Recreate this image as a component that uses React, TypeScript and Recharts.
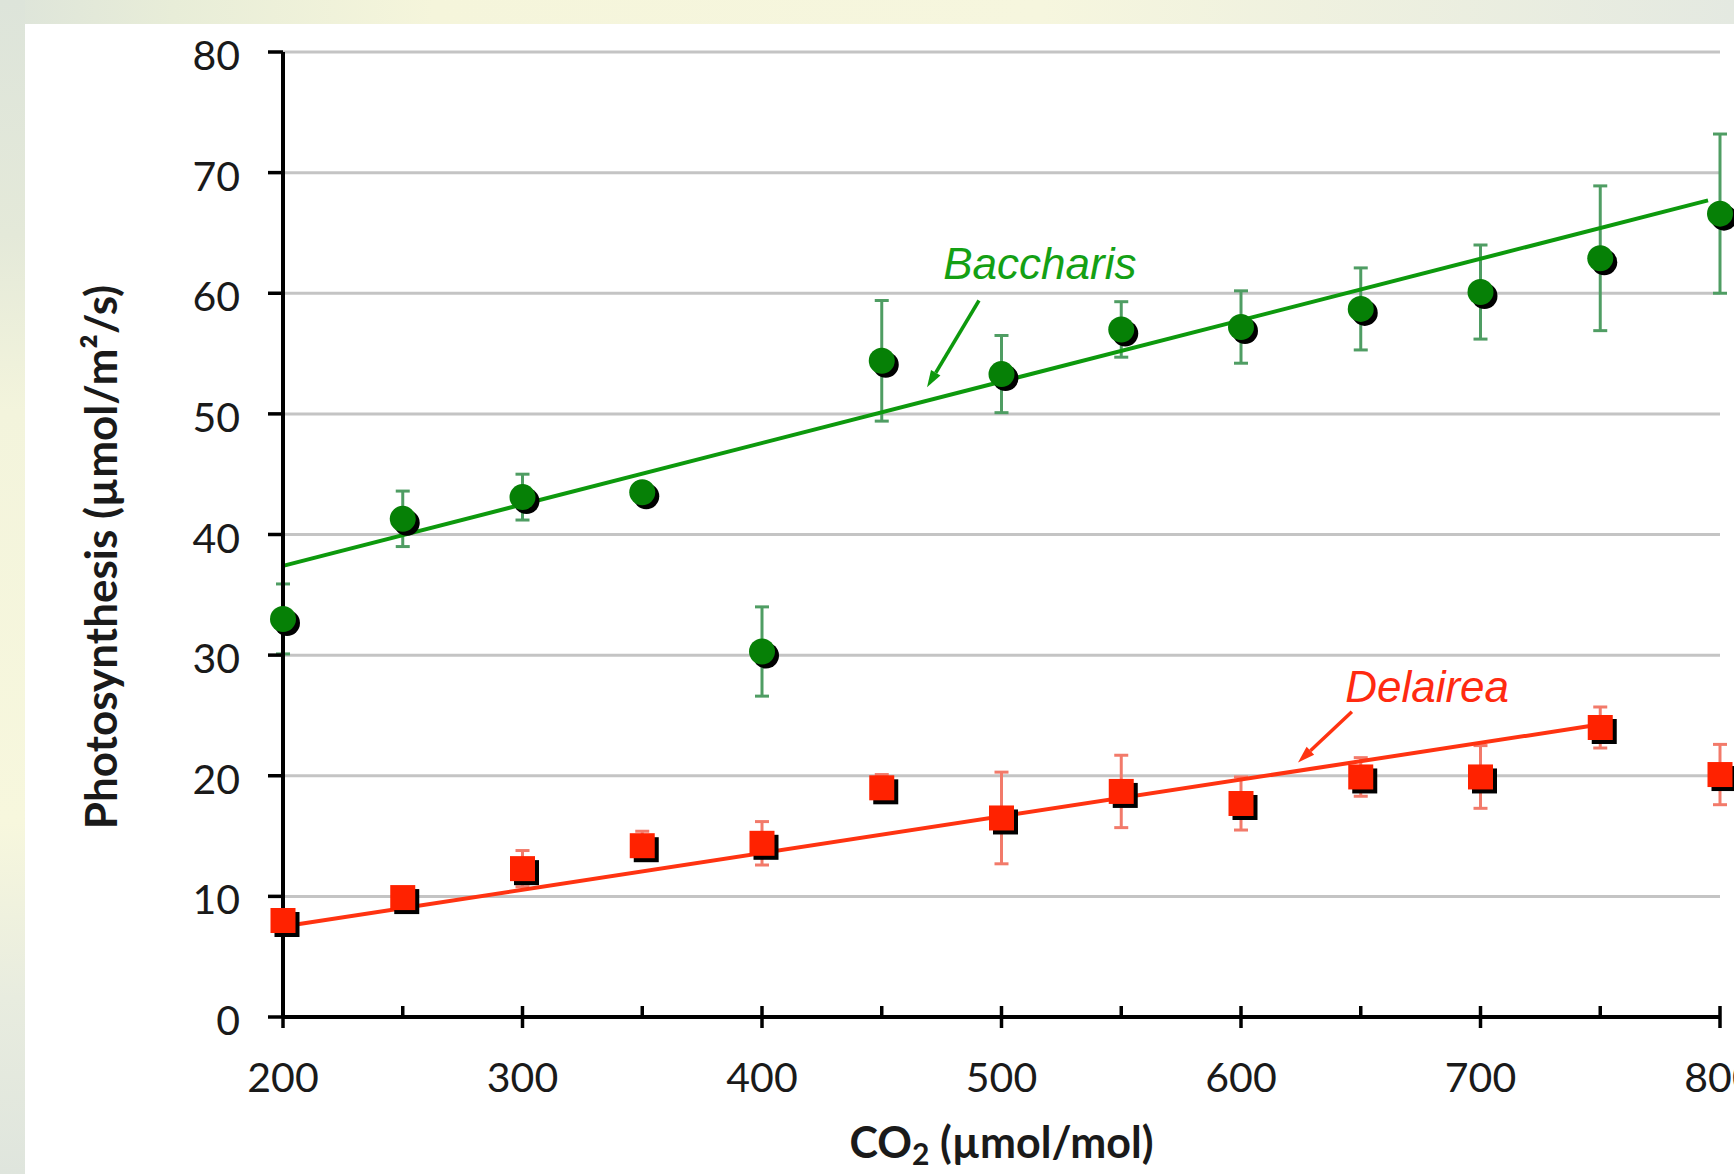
import { ScatterChart, Scatter, XAxis, YAxis, CartesianGrid, ErrorBar, ReferenceLine, ReferenceDot } from 'recharts'

// CO2 concentrations (µmol/mol)
const CO2 = [200, 250, 300, 350, 400, 450, 500, 550, 600, 650, 700, 750, 800]
// photosynthesis means and error bars (µmol/m²/s)
const BACCHARIS = [33.0, 41.3, 43.1, 43.5, 30.3, 54.4, 53.3, 57.0, 57.2, 58.7, 60.1, 62.9, 66.6]
const BACCHARIS_ERR = [2.9, 2.3, 1.9, 0.8, 3.7, 5.0, 3.2, 2.3, 3.0, 3.4, 3.9, 6.0, 6.6]
const DELAIREA = [8.0, 9.9, 12.3, 14.2, 14.4, 19.0, 16.5, 18.7, 17.7, 19.9, 19.9, 24.0, 20.1]
const DELAIREA_ERR = [0.6, 0.6, 1.5, 1.2, 1.8, 1.1, 3.8, 3.0, 2.2, 1.6, 2.6, 1.7, 2.5]

// linear fits, start and end
const BACCHARIS_FIT_X = [200, 795]
const BACCHARIS_FIT_Y = [37.4, 67.7]
const DELAIREA_FIT_X = [200, 745]
const DELAIREA_FIT_Y = [7.5, 24.1]

const X_TICKS = [200, 250, 300, 350, 400, 450, 500, 550, 600, 650, 700, 750, 800]
const Y_TICKS = [0, 10, 20, 30, 40, 50, 60, 70, 80]

const GREEN = '#068006'
const GREEN_LINE = '#0d990d'
const RED = '#ff2200'
const RED_LINE = '#ff3311'

const baccharisData = CO2.map((x, i) => ({ x, y: BACCHARIS[i], err: BACCHARIS_ERR[i] }))
const delaireaData = CO2.map((x, i) => ({ x, y: DELAIREA[i], err: DELAIREA_ERR[i] }))

const TICK_FONT = 'Lato, "Open Sans", sans-serif'

function GreenDot({ cx, cy }: any) {
  return (
    <g>
      <circle cx={cx + 4} cy={cy + 4} r={13} fill="#000" />
      <circle cx={cx} cy={cy} r={13} fill={GREEN} />
    </g>
  )
}

function RedSquare({ cx, cy }: any) {
  return (
    <g>
      <rect x={cx - 12.5 + 4} y={cy - 12.5 + 4} width={25} height={25} fill="#000" />
      <rect x={cx - 12.5} y={cy - 12.5} width={25} height={25} fill={RED} />
    </g>
  )
}

function XTick({ x, y, payload }: any) {
  const major = payload.value % 100 === 0
  return (
    <g>
      <line x1={x} x2={x} y1={y - 11} y2={major ? y + 11 : y} stroke="#000" strokeWidth={3.5} />
      {major && (
        <text x={x} y={y + 75} textAnchor="middle" fontSize={41} fill="#1a1a1a" fontFamily={TICK_FONT}>
          {payload.value}
        </text>
      )}
    </g>
  )
}

function YTick({ x, y, payload }: any) {
  return (
    <text x={x} y={y + 18} textAnchor="end" fontSize={41} fill="#1a1a1a" fontFamily={TICK_FONT}>
      {payload.value}
    </text>
  )
}

const arrowShape = (color: string) => (props: any) => {
  const { x1, y1, x2, y2 } = props
  const ang = Math.atan2(y2 - y1, x2 - x1)
  const len = 17
  const half = 5.5
  const bx = x2 - len * Math.cos(ang)
  const by = y2 - len * Math.sin(ang)
  const px = -Math.sin(ang) * half
  const py = Math.cos(ang) * half
  return (
    <g>
      <line x1={x1} y1={y1} x2={bx} y2={by} stroke={color} strokeWidth={3.5} />
      <polygon points={`${x2},${y2} ${bx + px},${by + py} ${bx - px},${by - py}`} fill={color} />
    </g>
  )
}

const noteShape = (text: string, color: string) => (props: any) => (
  <text x={props.cx} y={props.cy} textAnchor="middle" fontSize={44} fontStyle="italic"
    fontFamily='"Liberation Sans", Arial, sans-serif' fill={color}>
    {text}
  </text>
)

function YTitle({ viewBox }: any) {
  const x = viewBox.x + 75
  const y = 533
  return (
    <text x={x} y={y} transform={`rotate(-90 ${x} ${y})`} textAnchor="middle" dominantBaseline="central"
      fontSize={44} fontWeight={700} fontFamily={TICK_FONT} fill="#1a1a1a">
      Photosynthesis (µmol/m²/s)
    </text>
  )
}

function XTitle({ viewBox }: any) {
  const x = viewBox.x + viewBox.width / 2
  return (
    <text x={x} y={1134} textAnchor="middle" fontSize={43} fontWeight={700} fontFamily={TICK_FONT} fill="#1a1a1a">
      CO<tspan dy={7} fontSize={30}>2</tspan><tspan dy={-7}> (µmol/mol)</tspan>
    </text>
  )
}

export default function App() {
  return (
    <div style={{
      position: 'absolute', left: 0, top: 0, width: 1734, height: 1174, overflow: 'hidden',
      background: 'linear-gradient(90deg, #dde4da 0%, #e8edd8 10%, #f5f5db 25%, #f6f6de 60%, #e4e9e1 100%)',
    }}>
      <div style={{
        position: 'absolute', left: 0, top: 0, width: 25, height: 1174,
        background: 'linear-gradient(180deg, #dde4da 0%, #e4e9d9 20%, #f3f4dc 35%, #f7f7dd 70%, #e8ecdf 85%, #dfe5dd 100%)',
      }} />
      <div style={{ position: 'absolute', left: 25, top: 24, width: 1709, height: 1150, background: '#fff' }}>
        <ScatterChart width={1709} height={1150} margin={{ top: 28, right: 14, bottom: 0, left: 0 }}>
          <CartesianGrid vertical={false} stroke="#c4c4c4" strokeWidth={3} />
          <XAxis
            type="number"
            dataKey="x"
            domain={[200, 800]}
            ticks={X_TICKS}
            interval={0}
            height={157}
            tickSize={0}
            tickMargin={0}
            tickLine={false}
            axisLine={{ stroke: '#000', strokeWidth: 4 }}
            tick={<XTick />}
            label={<XTitle />}
          />
          <YAxis
            type="number"
            dataKey="y"
            domain={[0, 80]}
            ticks={Y_TICKS}
            interval={0}
            width={258}
            tickSize={15}
            tickMargin={28}
            tickLine={{ stroke: '#000', strokeWidth: 3.5 }}
            axisLine={{ stroke: '#000', strokeWidth: 4 }}
            tick={<YTick />}
            label={<YTitle />}
          />
          <Scatter data={baccharisData} shape={<GreenDot />} isAnimationActive={false}>
            <ErrorBar dataKey="err" direction="y" width={7} stroke="#4f9d63" strokeWidth={3} />
          </Scatter>
          <Scatter data={delaireaData} shape={<RedSquare />} isAnimationActive={false}>
            <ErrorBar dataKey="err" direction="y" width={7} stroke="#f27a6a" strokeWidth={3} />
          </Scatter>
          <ReferenceLine
            segment={[{ x: BACCHARIS_FIT_X[0], y: BACCHARIS_FIT_Y[0] }, { x: BACCHARIS_FIT_X[1], y: BACCHARIS_FIT_Y[1] }]}
            stroke={GREEN_LINE} strokeWidth={4} ifOverflow="visible"
          />
          <ReferenceLine
            segment={[{ x: DELAIREA_FIT_X[0], y: DELAIREA_FIT_Y[0] }, { x: DELAIREA_FIT_X[1], y: DELAIREA_FIT_Y[1] }]}
            stroke={RED_LINE} strokeWidth={4} ifOverflow="visible"
          />
          <ReferenceLine segment={[{ x: 490.6, y: 59.4 }, { x: 468.9, y: 52.2 }]} shape={arrowShape(GREEN_LINE)} ifOverflow="visible" />
          <ReferenceLine segment={[{ x: 646.3, y: 25.3 }, { x: 623.8, y: 21.1 }]} shape={arrowShape(RED_LINE)} ifOverflow="visible" />
          <ReferenceDot x={516} y={61.2} r={0} shape={noteShape('Baccharis', '#14a014')} ifOverflow="visible" />
          <ReferenceDot x={677.7} y={26.1} r={0} shape={noteShape('Delairea', '#ff2a10')} ifOverflow="visible" />
        </ScatterChart>
      </div>
    </div>
  )
}
